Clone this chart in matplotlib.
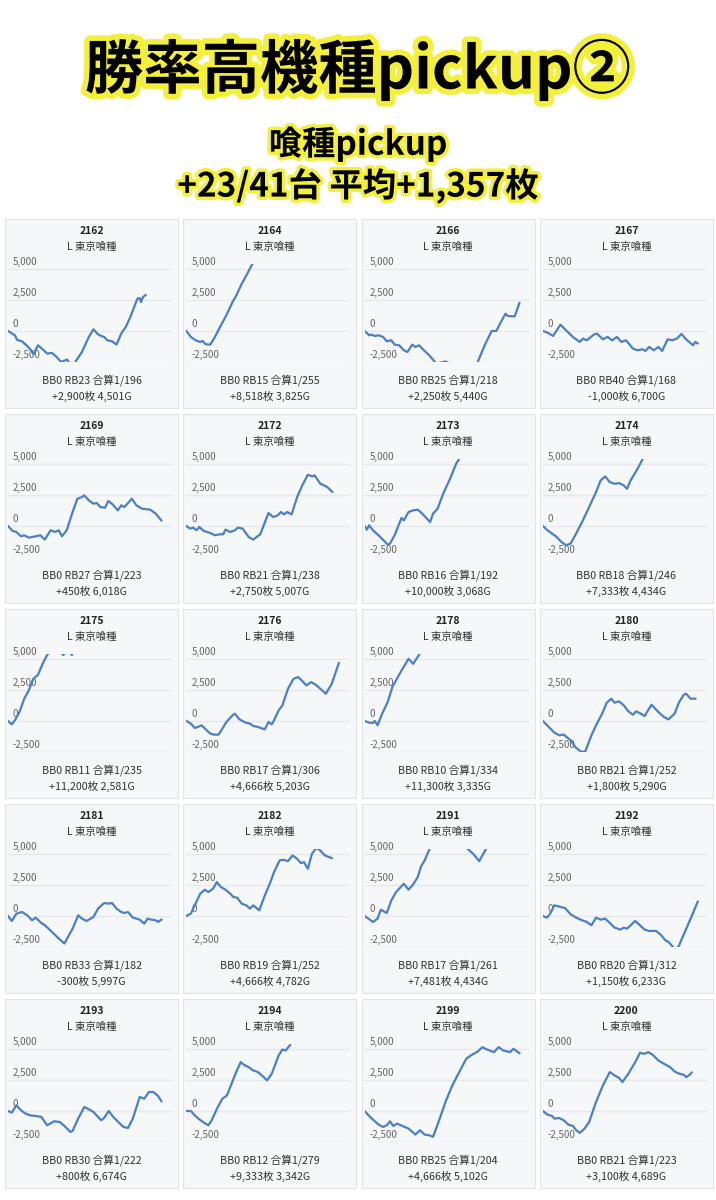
import matplotlib
matplotlib.use('Agg')
import matplotlib.pyplot as plt
from matplotlib.patches import Rectangle
import matplotlib.patheffects as pe

plt.rcParams['font.family'] = ['Noto Sans CJK JP', 'DejaVu Sans']

# ---------------- text data ----------------
title = '勝率高機種pickup②'
subtitle1 = '喰種pickup'
subtitle2 = '+23/41台 平均+1,357枚'
model_label = 'L 東京喰種'

machines = ['2162', '2164', '2166', '2167',
            '2169', '2172', '2173', '2174',
            '2175', '2176', '2178', '2180',
            '2181', '2182', '2191', '2192',
            '2193', '2194', '2199', '2200']

bonus_lines = ['BB0 RB23 合算1/196', 'BB0 RB15 合算1/255', 'BB0 RB25 合算1/218', 'BB0 RB40 合算1/168',
               'BB0 RB27 合算1/223', 'BB0 RB21 合算1/238', 'BB0 RB16 合算1/192', 'BB0 RB18 合算1/246',
               'BB0 RB11 合算1/235', 'BB0 RB17 合算1/306', 'BB0 RB10 合算1/334', 'BB0 RB21 合算1/252',
               'BB0 RB33 合算1/182', 'BB0 RB19 合算1/252', 'BB0 RB17 合算1/261', 'BB0 RB20 合算1/312',
               'BB0 RB30 合算1/222', 'BB0 RB12 合算1/279', 'BB0 RB25 合算1/204', 'BB0 RB21 合算1/223']

result_lines = ['+2,900枚 4,501G', '+8,518枚 3,825G', '+2,250枚 5,440G', '-1,000枚 6,700G',
                '+450枚 6,018G', '+2,750枚 5,007G', '+10,000枚 3,068G', '+7,333枚 4,434G',
                '+11,200枚 2,581G', '+4,666枚 5,203G', '+11,300枚 3,335G', '+1,800枚 5,290G',
                '-300枚 5,997G', '+4,666枚 4,782G', '+7,481枚 4,434G', '+1,150枚 6,233G',
                '+800枚 6,674G', '+9,333枚 3,342G', '+4,666枚 5,102G', '+3,100枚 4,689G']

ytick_values = [5000, 2500, 0, -2500]
ytick_labels = ['5,000', '2,500', '0', '-2,500']

# ---------------- series data (x = % of session, y = 差枚) ----------------
x_2162 = [0, 4.2, 5.6, 8.5, 11.3, 14.1, 15.5, 18.3, 21.1, 23.9, 26.8, 29.6, 32.4, 36.1, 38.0, 39.4, 40.8, 45.1, 49.3, 52.1, 54.9, 56.9, 58.6, 60.6, 63.4, 66.2, 69.0, 71.8, 74.6, 78.9, 80.3, 81.1, 82.3, 83.9]
y_2162 = [0, -348, -724, -831, -1152, -1554, -1876, -1152, -1474, -1822, -1769, -2090, -2492, -2305, -2707, -3000, -2546, -1688, -482, 134, -268, -402, -482, -750, -831, -1099, -214, 322, 1126, 2600, 2653, 2332, 2734, 2900]

x_2164 = [0, 2.8, 5.6, 8.5, 9.9, 11.8, 14.6, 16.9, 21.1, 23.9, 28.2, 31.0, 33.8, 36.6, 40.0, 55.0]
y_2164 = [0, -480, -750, -885, -800, -1070, -1100, -616, 456, 1126, 2332, 3000, 3805, 4475, 5333, 8518]

x_2166 = [0, 2.8, 4.2, 6.2, 8.5, 11.3, 13.5, 16.3, 18.3, 21.1, 23.9, 26.2, 29.0, 31.0, 33.2, 36.1, 39.4, 43.7, 49.3, 52.1, 67.6, 69.0, 73.2, 77.5, 80.3, 83.1, 85.9, 87.3, 91.5, 94.4]
y_2166 = [0, -348, -295, -400, -348, -482, -831, -750, -1099, -1152, -1554, -1688, -1099, -1286, -1152, -1554, -1956, -2626, -2460, -2626, -2760, -2492, -1152, 0, 0, 723, 1393, 1206, 1179, 2250]

x_2167 = [0, 2.8, 6.2, 10.7, 14.1, 18.3, 22.5, 24.5, 26.8, 31.0, 33.0, 36.6, 39.4, 42.3, 45.1, 47.9, 50.7, 54.9, 57.7, 60.6, 62.5, 64.8, 67.6, 70.4, 72.7, 76.1, 78.9, 81.7, 84.5, 87.3, 91.5, 93.0, 94.4]
y_2167 = [0, -134, -400, 509, 54, -482, -884, -616, -750, -295, -214, -670, -482, -750, -482, -884, -750, -1420, -1554, -1474, -1608, -1286, -1554, -1286, -1608, -670, -750, -616, -241, -670, -1152, -884, -1000]

x_2169 = [0, 2.8, 5.1, 7.9, 9.9, 12.7, 16.9, 19.7, 22.5, 25.9, 28.7, 31.0, 32.9, 35.8, 39.4, 42.3, 45.1, 46.5, 49.3, 52.1, 54.1, 56.3, 59.2, 61.1, 63.4, 67.0, 69.0, 71.0, 75.5, 78.3, 81.7, 86.8, 90.1, 93.5]
y_2169 = [0, -402, -482, -831, -750, -938, -831, -750, -1099, -348, -482, -348, -831, -348, 1126, 2198, 2332, 2466, 2064, 1796, 1850, 1528, 1474, 2010, 1796, 1260, 1662, 1528, 2198, 1662, 1394, 1313, 992, 450]

x_2172 = [0, 2.3, 4.2, 6.2, 7.9, 10.7, 14.6, 17.5, 20.3, 22.5, 23.9, 26.8, 29.6, 31.5, 34.4, 38.0, 40.8, 45.1, 50.1, 53.0, 55.8, 57.7, 59.7, 61.4, 64.2, 67.6, 70.4, 74.1, 76.9, 78.3, 81.7, 84.0, 86.0, 89.0]
y_2172 = [0, -214, -134, -348, -80, -402, -563, -750, -670, -670, -295, -482, -348, -134, -214, -884, -1099, -670, 1045, 724, 858, 1126, 938, 1126, 938, 2332, 3189, 4127, 3993, 4073, 3404, 3270, 3136, 2750]

x_2173 = [0, 1.4, 2.8, 5.1, 8.5, 14.1, 15.5, 18.3, 22.5, 23.9, 26.8, 29.6, 32.4, 35.2, 38.0, 40.0, 41.7, 44.5, 47.9, 52.1, 55.8, 57.7, 72.0]
y_2173 = [0, -295, 54, -348, -750, -1500, -1420, -750, 643, 456, 1126, 1260, 1313, 992, 590, 322, 992, 1394, 2600, 3806, 5012, 5414, 10000]

x_2174 = [0, 2.8, 5.6, 7.9, 11.3, 14.1, 16.9, 19.7, 23.9, 28.2, 32.4, 35.2, 38.0, 40.8, 43.7, 46.5, 49.3, 51.3, 53.5, 57.7, 60.6, 66.0]
y_2174 = [0, -348, -616, -831, -1286, -1554, -1420, -750, 322, 1528, 2734, 3672, 3993, 3538, 3404, 3457, 3270, 3002, 3672, 4610, 5333, 7333]

x_2175 = [0, 2.3, 4.2, 7.0, 9.9, 12.7, 15.5, 18.3, 21.1, 23.9, 25.4, 29.6, 33.8, 36.1, 38.9, 41.0, 60.0]
y_2175 = [0, -268, 54, 724, 1796, 2466, 3404, 3725, 4610, 5333, 5548, 5900, 5320, 5900, 5320, 5900, 11200]

x_2176 = [0, 2.8, 5.1, 7.0, 9.3, 11.8, 14.6, 16.9, 19.7, 24.5, 28.2, 29.6, 32.4, 36.1, 38.9, 40.8, 43.7, 46.5, 47.9, 50.1, 52.1, 53.5, 56.3, 58.6, 62.0, 65.4, 68.2, 70.4, 73.2, 76.1, 78.9, 81.7, 85.1, 88.7, 93.0]
y_2176 = [0, -214, -563, -482, -348, -670, -1018, -1099, -1099, -80, 456, 590, 134, -134, -214, -402, -482, -616, -670, -80, -268, 54, 858, 1260, 2600, 3404, 3538, 3270, 2868, 3136, 2922, 2600, 2198, 3002, 4666]

x_2178 = [0, 2.8, 5.1, 6.2, 7.9, 10.7, 14.1, 16.9, 19.7, 22.5, 26.8, 29.6, 33.2, 45.0]
y_2178 = [0, -134, -160, 0, -348, 590, 1528, 2734, 3404, 4073, 5012, 4610, 5333, 11300]

x_2180 = [0, 4.2, 7.0, 9.9, 12.7, 16.9, 19.7, 22.0, 23.9, 25.9, 29.6, 32.4, 36.1, 38.9, 41.7, 43.7, 46.5, 49.3, 52.1, 54.9, 56.9, 59.7, 62.0, 66.2, 70.4, 73.8, 76.6, 80.3, 83.1, 85.9, 87.3, 90.1, 93.0]
y_2180 = [0, -563, -938, -1152, -1099, -1554, -2090, -2358, -2492, -2439, -1152, -348, 590, 1474, 1796, 1474, 1581, 1260, 777, 509, 777, 590, 402, 1313, 724, 322, 134, 590, 1528, 2117, 2198, 1796, 1800]

x_2181 = [0, 2.3, 5.1, 8.5, 11.8, 14.6, 16.9, 20.3, 22.5, 26.8, 31.0, 34.4, 36.6, 39.4, 42.8, 45.1, 47.9, 52.1, 54.9, 58.6, 61.4, 63.4, 66.2, 69.0, 71.0, 73.2, 76.1, 78.3, 80.3, 83.1, 85.1, 87.3, 90.1, 91.5, 93.5]
y_2181 = [0, -402, 188, 322, 54, -348, -134, -563, -750, -1286, -1822, -2224, -1688, -1018, 54, -214, -402, -80, 590, 1045, 992, 1045, 590, 322, 241, 322, -134, -214, -295, -616, -214, -295, -348, -482, -300]

x_2182 = [0, 2.8, 5.6, 8.5, 11.3, 13.5, 16.3, 18.6, 21.1, 23.9, 26.8, 28.7, 31.0, 33.8, 36.6, 38.9, 40.8, 44.5, 47.9, 51.3, 53.5, 56.9, 59.2, 62.0, 64.8, 67.6, 69.9, 71.8, 74.1, 76.6, 79.4, 81.7, 84.5, 88.7]
y_2182 = [0, 188, 992, 1796, 2117, 1930, 2198, 2734, 2332, 2117, 1796, 1528, 1474, 992, 858, 590, 858, 456, 1662, 2734, 3538, 4476, 4529, 4422, 4878, 4610, 4261, 4342, 3806, 5012, 5494, 5280, 4878, 4666]

x_2191 = [0, 2.3, 5.1, 7.9, 9.9, 11.3, 13.5, 16.3, 19.2, 22.0, 23.9, 26.8, 29.6, 32.4, 34.4, 36.6, 39.4, 42.3, 50.0, 58.0, 62.8, 66.2, 69.9, 71.8, 74.1, 80.0]
y_2191 = [0, -214, -482, -214, 509, 402, 241, 1260, 1930, 2332, 2600, 2117, 2546, 3136, 3993, 4476, 5333, 6000, 7000, 6500, 5414, 5012, 4422, 4878, 5414, 7481]

x_2192 = [0, 2.3, 4.2, 7.0, 10.7, 13.5, 16.9, 20.3, 23.9, 26.8, 29.6, 32.4, 35.2, 38.0, 40.8, 43.7, 47.3, 49.3, 51.3, 56.3, 59.2, 62.0, 64.8, 69.0, 71.8, 74.6, 76.6, 78.9, 81.1, 83.1, 85.9, 90.1, 94.4]
y_2192 = [0, -134, 134, 858, 724, 643, 134, -134, -348, -482, -750, -134, -295, -214, -563, -938, -1099, -938, -1018, -402, -750, -1099, -1206, -1206, -1500, -1956, -2090, -2439, -2760, -2358, -1474, -214, 1150]

x_2193 = [0, 2.3, 5.1, 7.9, 10.7, 13.5, 16.9, 20.3, 23.9, 28.2, 31.5, 34.4, 38.0, 39.4, 42.8, 46.5, 49.3, 52.1, 54.9, 56.9, 58.6, 61.4, 64.2, 67.6, 70.4, 73.2, 76.1, 80.3, 83.1, 85.9, 88.7, 91.5, 93.5]
y_2193 = [0, -134, 456, 54, -214, -348, -402, -482, -1152, -831, -884, -1206, -1688, -1608, -616, 322, 134, -80, -482, -750, -563, 0, -482, -938, -1286, -1367, -616, 1126, 992, 1528, 1528, 1206, 800]

x_2194 = [0, 2.8, 5.1, 7.9, 10.7, 13.5, 15.5, 19.2, 22.0, 24.8, 27.6, 30.4, 33.2, 35.2, 38.0, 40.8, 43.7, 46.5, 49.3, 52.1, 56.3, 58.6, 60.6, 63.4, 70.0]
y_2194 = [0, 0, -348, -670, -938, -1152, -750, 322, 992, 1260, 2198, 3136, 3940, 3725, 3538, 3270, 3136, 2814, 2466, 3002, 4476, 4958, 4878, 5333, 9333]

x_2199 = [0, 2.8, 5.6, 8.5, 11.3, 13.5, 15.5, 17.5, 19.7, 23.1, 26.8, 31.0, 33.8, 36.6, 39.4, 41.7, 45.1, 49.3, 53.5, 57.7, 62.0, 64.8, 69.0, 71.8, 74.6, 78.9, 81.7, 84.5, 88.7, 90.7, 94.4]
y_2199 = [0, -402, -750, -1099, -1286, -1152, -831, -1206, -1018, -1206, -1420, -1902, -1554, -1902, -1956, -2090, -884, 724, 2064, 3136, 4208, 4476, 4797, 5146, 4958, 4744, 5146, 4878, 4744, 5012, 4666]

x_2200 = [0, 2.8, 5.6, 7.0, 9.9, 12.7, 15.5, 18.3, 20.3, 22.5, 25.4, 28.2, 32.4, 36.6, 40.8, 43.7, 46.5, 48.5, 52.1, 56.3, 59.2, 62.0, 64.2, 67.0, 70.4, 73.8, 77.5, 80.3, 83.1, 85.9, 87.3, 89.6, 90.7]
y_2200 = [0, -295, -402, -616, -563, -750, -1099, -1206, -1554, -1769, -1420, -884, 724, 2064, 3136, 2868, 2653, 2332, 3002, 3940, 4690, 4610, 4744, 4529, 4073, 3806, 3538, 3189, 3002, 2922, 2734, 2922, 3100]

series_x = [x_2162, x_2164, x_2166, x_2167, x_2169, x_2172, x_2173, x_2174, x_2175, x_2176,
            x_2178, x_2180, x_2181, x_2182, x_2191, x_2192, x_2193, x_2194, x_2199, x_2200]
series_y = [y_2162, y_2164, y_2166, y_2167, y_2169, y_2172, y_2173, y_2174, y_2175, y_2176,
            y_2178, y_2180, y_2181, y_2182, y_2191, y_2192, y_2193, y_2194, y_2199, y_2200]

# ---------------- layout ----------------
W, H = 716, 1200
fig = plt.figure(figsize=(W / 100, H / 100), dpi=100)
fig.patch.set_facecolor('white')

LINE_COLOR = '#4a80c4'
GLOW = '#f3ef3a'

def fy(py):
    return 1 - py / H

fig.text(0.5, fy(70), title, ha='center', va='center', fontsize=42, fontweight='bold',
         color='black', path_effects=[pe.withStroke(linewidth=8, foreground=GLOW)])
fig.text(0.5, fy(144), subtitle1, ha='center', va='center', fontsize=24, fontweight='bold',
         color='black', path_effects=[pe.withStroke(linewidth=5, foreground=GLOW)])
fig.text(0.5, fy(186), subtitle2, ha='center', va='center', fontsize=24, fontweight='bold',
         color='black', path_effects=[pe.withStroke(linewidth=5, foreground=GLOW)])

PW, PH = 173, 189
for i, m in enumerate(machines):
    r, c = divmod(i, 4)
    L = 5 + 178.3 * c
    T = 219 + 195 * r
    fig.patches.append(Rectangle((L / W, fy(T + PH)), PW / W, PH / H, transform=fig.transFigure,
                                 facecolor='#f6f7f9', edgecolor='#e2e4e8', lw=0.8, zorder=-5))
    cx = (L + PW / 2) / W
    fig.text(cx, fy(T + 12), m, ha='center', va='center', fontsize=7.5, fontweight='bold', color='#222222')
    fig.text(cx, fy(T + 28), model_label, ha='center', va='center', fontsize=7.5, color='#333333')
    fig.text(cx, fy(T + 161), bonus_lines[i], ha='center', va='center', fontsize=7.7, color='#333333')
    fig.text(cx, fy(T + 177), result_lines[i], ha='center', va='center', fontsize=7.7, color='#333333')

    ax = fig.add_axes([(L + 3) / W, fy(T + 143), 164 / W, 98 / H])
    ax.set_zorder(2)
    ax.patch.set_visible(False)
    ax.set_xlim(0, 100)
    ax.set_ylim(-2500, 5400)
    for s in ax.spines.values():
        s.set_visible(False)
    ax.set_xticks([])
    ax.set_yticks([])
    for v, lab in zip(ytick_values, ytick_labels):
        ax.axhline(v, color='#e6e7ea', lw=0.9, zorder=0)
        ax.annotate(lab, xy=(0.03, v), xycoords=('axes fraction', 'data'), xytext=(0, 2),
                    textcoords='offset pixels', ha='left', va='bottom', fontsize=7,
                    color='#666666', zorder=1)
    ax.plot(series_x[i], series_y[i], color=LINE_COLOR, lw=1.6, solid_joinstyle='round', zorder=3)

fig.savefig('out.png', dpi=100, facecolor='white')
